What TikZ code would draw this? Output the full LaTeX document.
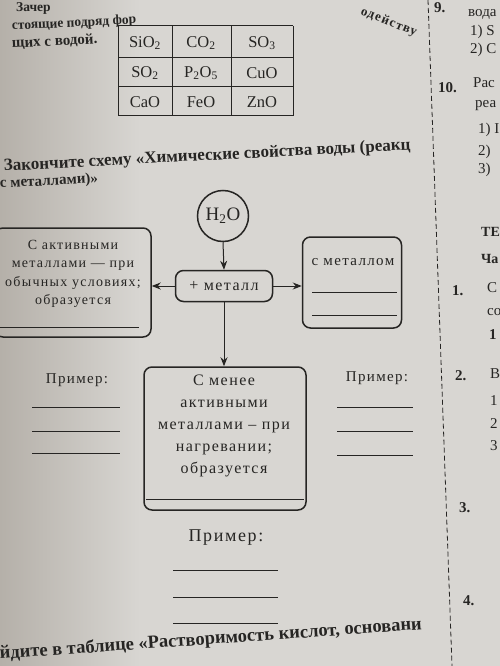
\documentclass[tikz,border=0pt]{standalone}
\usepackage{fontspec}
\setmainfont{Liberation Serif}
\newfontfamily\schemefont[LetterSpace=9]{Liberation Serif}
\usetikzlibrary{arrows.meta,positioning,calc}
\definecolor{cink}{HTML}{262523}
\definecolor{cpaper}{HTML}{D8D6D2}
\definecolor{cshade}{HTML}{B5B0A9}

\begin{document}
\begin{tikzpicture}[x=1pt,y=-1pt,
  every node/.style={text=cink,font=\schemefont\fontsize{14}{18.5}\selectfont},
  box/.style={draw=cink,line width=1.5pt,rounded corners=8pt},
  blank/.style={draw=cink,line width=0.8pt},
  link/.style={draw=cink,line width=1pt,-{Stealth[length=9pt,width=7pt]}},
  boldtext/.style={font=\bfseries\fontsize{15}{18}\selectfont,anchor=base west,inner sep=0pt},
  coltext/.style={font=\fontsize{15}{18}\selectfont,anchor=base west,inner sep=0pt},
  cell/.style={font=\fontsize{16.5}{18}\selectfont}]
  \useasboundingbox (0,0) rectangle (500,666);
  \clip (0,0) rectangle (500,666);
  \fill[cpaper] (0,0) rectangle (500,666);
  \shade[left color=cshade,right color=cpaper] (0,0) rectangle (140,666);
  % task text and oxide table
  \node[boldtext,font=\bfseries\fontsize{13.5}{16}\selectfont] (top1) at (16,12) {Зачер};
  \node[boldtext,rotate=3,font=\bfseries\fontsize{13.5}{16}\selectfont] (top2) at (12,30) {стоящие подряд фор};
  \node[boldtext,rotate=-22,font=\bfseries\schemefont\fontsize{13}{16}\selectfont] (top3) at (360,14) {одейству};
  \node[boldtext,rotate=3] (top4) at (12,48) {щих с водой.};
  \foreach \x in {118,172,231,293}{\draw[cink,line width=1pt] (\x,26) -- (\x,116);}
  \foreach \y in {26,58,87,116}{\draw[cink,line width=1pt] (118,\y) -- (293,\y);}
  \foreach \t/\x/\y [count=\i] in {SiO\textsubscript{2}/145/43, CO\textsubscript{2}/201/43, SO\textsubscript{3}/262/43,
      SO\textsubscript{2}/145/73, P\textsubscript{2}O\textsubscript{5}/201/73, CuO/262/73,
      CaO/145/102, FeO/201/102, ZnO/262/102}{\node[cell] (cell\i) at (\x,\y) {\t};}
  \node[boldtext,rotate=3,font=\bfseries\fontsize{17}{20}\selectfont] (task) at (4,171) {Закончите схему «Химические свойства воды (реакц};
  \node[boldtext,rotate=3] (task2) at (0,188) {с металлами)»};
  % scheme
  \node[draw=cink,line width=1.5pt,circle,minimum size=51pt,inner sep=0pt,font=\fontsize{19}{20}\selectfont] (water) at (223,216) {H\textsubscript{2}O};
  \node[box,minimum width=97pt,minimum height=31pt,font=\schemefont\fontsize{16}{18}\selectfont] (metal) at (224,286) {+ металл};
  \node[box,minimum width=156pt,minimum height=109pt] (active) at (73,282.5) {};
  \node[align=center] (activetext) at (73,274) {С активными\\металлами — при\\обычных условиях;\\образуется};
  \draw[blank] ($(active.south west)+(6,-10)$) -- ($(active.south east)+(-13,-10)$);
  \node[box,minimum width=99pt,minimum height=91pt] (withmetal) at (352,282.5) {};
  \node[font=\schemefont\fontsize{15}{18}\selectfont] (withmetaltext) at (353,262) {с металлом};
  \foreach \y in {292,315}{\draw[blank] (312,\y) -- (397,\y);}
  \node[box,minimum width=162pt,minimum height=143pt] (lessactive) at (225,438.5) {};
  \node[align=center,font=\schemefont\fontsize{16}{22}\selectfont] (lessactivetext) at (224,426) {С менее\\активными\\металлами – при\\нагревании;\\образуется};
  \draw[blank] ($(lessactive.south west)+(3,-11)$) -- ($(lessactive.south east)+(-3,-11)$);
  \draw[link] (water.south) -- (metal.north);
  \draw[link] (metal.west) -- (metal.west -| active.east);
  \draw[link] (metal.east) -- (metal.east -| withmetal.west);
  \draw[link] (metal.south) -- (metal.south |- lessactive.north);
  % examples
  \node[font=\schemefont\fontsize{15}{18}\selectfont] (example1) at (77,380) {Пример:};
  \node[font=\schemefont\fontsize{15}{18}\selectfont] (example2) at (377,378) {Пример:};
  \node[font=\schemefont\fontsize{18}{20}\selectfont] (example3) at (226,538) {Пример:};
  \foreach \y in {407,431,453}{\draw[blank] (32,\y) -- (120,\y);}
  \foreach \y in {407,431,455}{\draw[blank] (337,\y) -- (413,\y);}
  \foreach \y in {570,597,623}{\draw[blank] (173,\y) -- (278,\y);}
  \node[boldtext,rotate=4,font=\bfseries\fontsize{18.5}{20}\selectfont] (next) at (0,659) {йдите в таблице «Растворимость кислот, основани};
  % right column
  \draw[cink,line width=0.8pt,dash pattern=on 5pt off 3pt] (428,0) -- (452,666);
  \foreach \t/\x/\y [count=\i] in {9./434/13, 10./438/93, 1./452/295, 2./455/380, 3./459/512, 4./463/605}
    {\node[boldtext] (num\i) at (\x,\y) {\t};}
  \node[boldtext,font=\bfseries\fontsize{14}{16}\selectfont] (theme) at (481,236) {ТЕ};
  \node[boldtext,font=\bfseries\fontsize{14}{16}\selectfont] (part) at (481,263) {Ча};
  \node[boldtext] (num7) at (489,339) {1};
  \foreach \t/\x/\y [count=\i] in {вода/468/17, {1) S}/470/36, {2) C}/470/54, Рас/473/88, реа/475/108,
      {1) I}/478/133, 2)/478/155, 3)/478/173, С/487/292, со/487/315, В/490/378, 1/490/405, 2/490/428, 3/490/450}
    {\node[coltext] (frag\i) at (\x,\y) {\t};}
\end{tikzpicture}
\end{document}
